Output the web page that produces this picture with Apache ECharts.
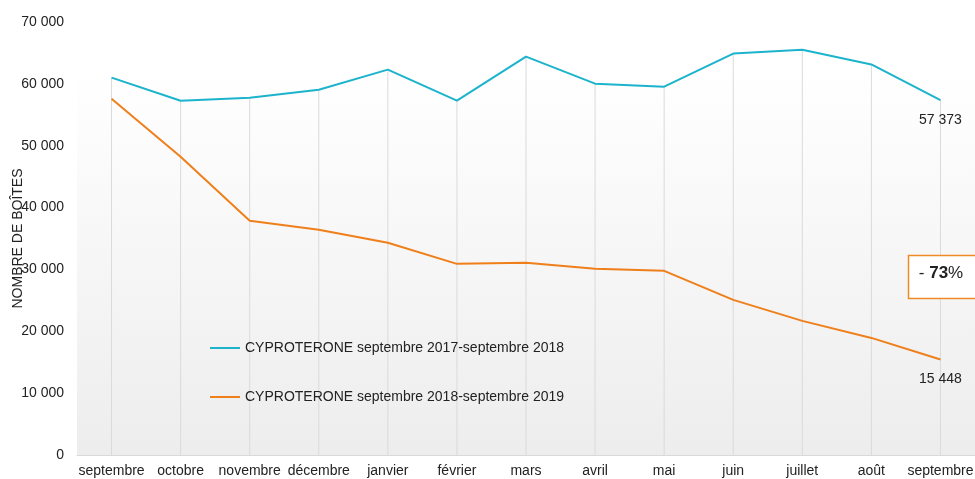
<!DOCTYPE html>
<html>
<head>
<meta charset="utf-8">
<script src="https://cdn.jsdelivr.net/npm/echarts@6/dist/echarts.min.js"></script>
<style>
  html, body { margin: 0; padding: 0; background: #fff; }
  #chart { width: 975px; height: 479px; }
</style>
</head>
<body>
<div id="chart"></div>
<script>
// mois (septembre à septembre)
const months = ['septembre', 'octobre', 'novembre', 'décembre', 'janvier', 'février', 'mars',
  'avril', 'mai', 'juin', 'juillet', 'août', 'septembre'];

// nombre de boîtes par mois
const cyp2017 = [61000, 57280, 57770, 59060, 62300, 57280, 64400, 60030, 59550, 64890, 65530, 63140, 57373];
const cyp2018 = [57600, 48220, 37860, 36400, 34300, 30900, 31070, 30100, 29770, 25080, 21680, 18930, 15448];

const name2017 = 'CYPROTERONE septembre 2017-septembre 2018';
const name2018 = 'CYPROTERONE septembre 2018-septembre 2019';
const baisse = '73';

const fmt = v => String(v).replace(/\B(?=(\d{3})+(?!\d))/g, ' ');
const font = 'Liberation Sans, Arial, sans-serif';

// seule la dernière valeur porte une étiquette
const lastLabel = arr => arr.map((v, i) => i === arr.length - 1
  ? { value: v, label: { show: true } }
  : v);

const chart = echarts.init(document.getElementById('chart'));
chart.setOption({
  animation: false,
  textStyle: { fontFamily: font },
  grid: { left: 77, right: 0, top: 22, bottom: 24, outerBoundsMode: 'none', containLabel: false },
  graphic: [
    {
      type: 'rect', z: -10,
      shape: { x: 77, y: 70, width: 898, height: 385 },
      style: {
        fill: new echarts.graphic.LinearGradient(0, 0, 0, 1, [
          { offset: 0, color: '#ffffff' },
          { offset: 1, color: '#ededed' }
        ])
      }
    },
    {
      type: 'rect', z: 100,
      shape: { x: 908.5, y: 255.5, width: 70, height: 43 },
      style: { fill: '#fff', stroke: '#f08a24', lineWidth: 1.5 }
    },
    {
      type: 'text', z: 101,
      x: 941, y: 273,
      style: {
        text: '{n|- }{b|' + baisse + '}{n|%}',
        align: 'center', verticalAlign: 'middle',
        rich: {
          n: { fontSize: 17, fontFamily: font, fill: '#222' },
          b: { fontSize: 17, fontFamily: font, fontWeight: 'bold', fill: '#222' }
        }
      }
    }
  ],
  legend: {
    data: [name2017, name2018],
    orient: 'vertical',
    left: 210, top: 341,
    padding: 0,
    itemWidth: 30, itemHeight: 2, itemGap: 35,
    icon: 'rect',
    textStyle: { fontSize: 14, color: '#222', fontFamily: font }
  },
  xAxis: {
    type: 'category',
    data: months,
    axisLine: { lineStyle: { color: '#d9d9d9', width: 1 } },
    axisTick: { show: false },
    axisLabel: { color: '#222', fontSize: 14, margin: 9, interval: 0 },
    splitLine: { show: false }
  },
  yAxis: {
    type: 'value',
    min: 0, max: 70000, interval: 10000,
    name: 'NOMBRE DE BOÎTES',
    nameLocation: 'middle',
    nameGap: 52,
    nameRotate: 90,
    nameMoveOverlap: false,
    nameTextStyle: { fontSize: 14, color: '#222' },
    axisLine: { show: false },
    axisTick: { show: false },
    splitLine: { show: false },
    axisLabel: { color: '#222', fontSize: 14, margin: 13, formatter: v => fmt(v) }
  },
  series: [
    {
      name: 'drop',
      type: 'bar',
      data: cyp2017,
      barWidth: 1,
      itemStyle: { color: '#dadada' },
      silent: true,
      z: 1
    },
    {
      name: name2017,
      type: 'line',
      data: lastLabel(cyp2017),
      symbol: 'circle',
      symbolSize: 0,
      color: '#1cb3cc',
      lineStyle: { width: 2, color: '#1cb3cc' },
      z: 3,
      label: {
        show: false, position: 'bottom', distance: 13,
        fontSize: 14, color: '#222', formatter: p => fmt(p.value)
      }
    },
    {
      name: name2018,
      type: 'line',
      data: lastLabel(cyp2018),
      symbol: 'circle',
      symbolSize: 0,
      color: '#ef7f1a',
      lineStyle: { width: 2, color: '#ef7f1a' },
      z: 3,
      label: {
        show: false, position: 'bottom', distance: 13,
        fontSize: 14, color: '#222', formatter: p => fmt(p.value)
      }
    }
  ]
});
</script>
</body>
</html>
